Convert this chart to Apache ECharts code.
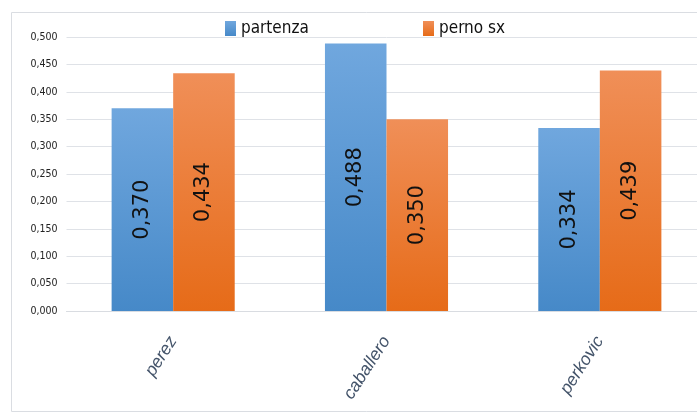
<!DOCTYPE html>
<html><head><meta charset="utf-8">
<script src="https://cdn.jsdelivr.net/npm/echarts@6/dist/echarts.min.js"></script>
<style>html,body{margin:0;padding:0;background:#fff;overflow:hidden}#c{width:720px;height:416px}</style>
</head><body><div id="c"></div>
<script>
const categories = ['perez', 'caballero', 'perkovic'];
const partenza = [0.370, 0.488, 0.334];
const pernoSx = [0.434, 0.350, 0.439];
const seriesNames = ['partenza', 'perno sx'];

const fmt = v => v.toFixed(3).replace('.', ',');
const chart = echarts.init(document.getElementById('c'));
const blueGrad = new echarts.graphic.LinearGradient(0,0,0,1,[{offset:0,color:'#70a7de'},{offset:1,color:'#4689c8'}]);
const orangeGrad = new echarts.graphic.LinearGradient(0,0,0,1,[{offset:0,color:'#f08f58'},{offset:1,color:'#e66b18'}]);
const labelCfg = {
  show: true, position: 'inside', rotate: 90,
  formatter: p => fmt(p.value),
  color: '#111', fontFamily: 'DejaVu Sans', fontSize: 21
};
const legendText = {fontFamily: 'DejaVu Sans Condensed, Liberation Sans', fontSize: 17, color: '#111'};
chart.setOption({
  animation: false,
  graphic: [{type:'rect', shape:{x:11.5, y:12.5, width:720, height:399}, style:{fill:'none', stroke:'#dadde2', lineWidth:1}, z:-10}],
  legend: [
    {top: 15, left: 220, itemWidth: 11, itemHeight: 15, itemGap: 0, icon: 'rect', textStyle: legendText, data: [seriesNames[0]]},
    {top: 15, left: 418, itemWidth: 11, itemHeight: 15, itemGap: 0, icon: 'rect', textStyle: legendText, data: [seriesNames[1]]}
  ],
  grid: {left: 66.5, top: 37, bottom: 105, width: 640, containLabel: false},
  xAxis: {
    type: 'category', data: categories,
    axisLine: {show: true, lineStyle: {color: '#d9dce1'}},
    axisTick: {show: false},
    axisLabel: {rotate: 57, fontStyle: 'italic', fontFamily: 'Liberation Sans', fontSize: 17.5, color: '#44546a', margin: 27}
  },
  yAxis: {
    type: 'value', min: 0, max: 0.5, interval: 0.05,
    axisLine: {show: false}, axisTick: {show: false},
    splitLine: {lineStyle: {color: '#dfe2e7'}},
    axisLabel: {formatter: v => fmt(v), fontFamily: 'DejaVu Sans Condensed, Liberation Sans', fontSize: 10.5, color: '#222', margin: 9}
  },
  series: [
    {name: seriesNames[0], type: 'bar', data: partenza, barGap: '0%', barCategoryGap: '42.3%',
     itemStyle: {color: blueGrad}, label: labelCfg},
    {name: seriesNames[1], type: 'bar', data: pernoSx,
     itemStyle: {color: orangeGrad}, label: labelCfg}
  ]
});
</script></body></html>
